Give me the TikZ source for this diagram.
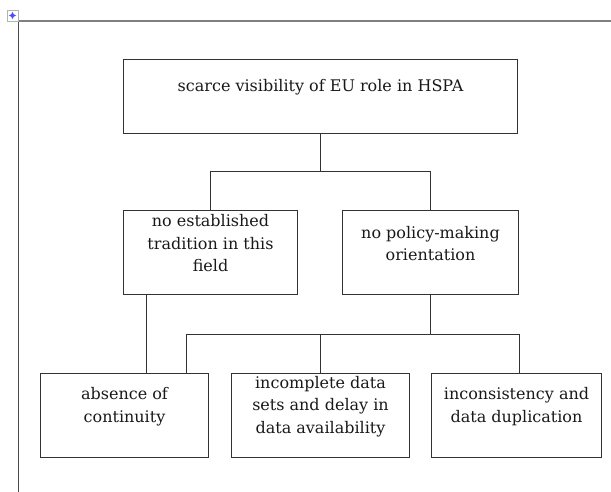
\documentclass[tikz,border=0pt]{standalone}
\usepackage{fontspec}
\setmainfont{DejaVu Serif}
\usetikzlibrary{positioning}
\tikzset{
	every node/.style={
		font=\fontsize{16}{22.5}\selectfont
	},
	cause/.style={
		shape=rectangle,
		draw=black!80,
		line width=1pt,
		minimum width=174pt,
		minimum height=84pt,
		inner sep=0pt,
		label={[yshift=9pt, align=center, text=black!90]center:#1},
	},
	link/.style={draw=black!80, line width=1pt},
}

\begin{document}
\begin{tikzpicture}[x=1pt,y=-1pt]
		\useasboundingbox (0,0) rectangle (611,492);
		
		% frame and handle
		\draw[black!70, line width=1.2pt] (18.5,21) -- (18.5,492);
		\draw[black!50, line width=2pt] (18,21) -- (611,21);
		\draw[black!30, fill=white, line width=0.6pt] (7,10) rectangle (18,21);
		\draw[blue!70, <->, >=stealth, line width=0.6pt] (8.8,15.5) -- (16.2,15.5);
		\draw[blue!70, <->, >=stealth, line width=0.6pt] (12.5,11.8) -- (12.5,19.2);
		
		\node[cause={scarce visibility of EU role in HSPA}, minimum width=394pt, minimum height=74pt] (problem) at (320.5,96.5) {};
		\node[cause={no established\\tradition in this\\field}] (tradition) at (210.5,252.5) {};
		\node[cause={no policy-making\\orientation}, minimum width=176pt] (policy) [right=44pt of tradition] {};
		\node[cause={absence of\\continuity}, minimum width=168pt] (continuity) at (124.5,415.5) {};
		\node[cause={incomplete data\\sets and delay in\\data availability}, minimum width=178pt] (datasets) [right=22pt of continuity] {};
		\node[cause={inconsistency and\\data duplication}, minimum width=170pt] (duplication) [right=21pt of datasets] {};
		
		\coordinate (split) at (problem.south |- 0,171.5);
		\coordinate (bus) at (policy.south |- 0,334.5);
		\coordinate (drop) at ([xshift=-64pt]tradition.south);
		
		\draw[link] (problem.south) -- (split);
		\draw[link] (tradition.north) |- (split) -| (policy.north);
		\draw[link] (drop) -- (drop |- continuity.north);
		\draw[link] (policy.south) -- (bus);
		\draw[link] ([xshift=62pt]continuity.north) |- (bus) -| ([xshift=3pt]duplication.north);
		\draw[link] (datasets.north) -- (datasets.north |- bus);
		
\end{tikzpicture}
\end{document}
